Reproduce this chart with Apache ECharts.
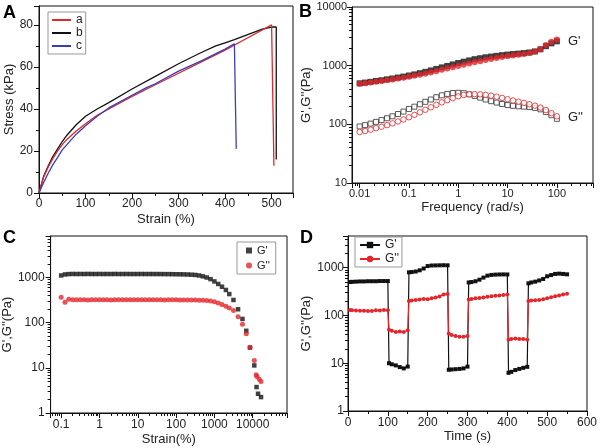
<!DOCTYPE html>
<html>
<head>
<meta charset="utf-8">
<script src="https://cdn.jsdelivr.net/npm/echarts@6/dist/echarts.min.js"></script>
<style>
html, body { margin: 0; padding: 0; background: #fff; }
#chart { width: 600px; height: 448px; }
</style>
</head>
<body>
<div id="chart"></div>
<script>
// ---- panel A : stress-strain curves ----
var strainA_a = [0, 5, 10, 20, 30, 40, 50, 60, 80, 100, 125, 150, 200, 250, 300, 350, 400, 450, 500, 502, 505];
var stressA_a = [0, 4, 7.5, 12.5, 16.5, 20, 23, 25.5, 29.5, 33, 37, 40, 46, 51.5, 57, 62.5, 68, 74, 80, 80, 13];
var strainA_b = [0, 5, 10, 20, 30, 40, 50, 60, 70, 80, 100, 125, 150, 200, 250, 300, 350, 380, 400, 420, 450, 480, 500, 510, 510];
var stressA_b = [0, 4, 8, 13, 17.5, 21, 24.5, 27.5, 30, 32.5, 36.5, 40, 43, 49.5, 55.5, 61.5, 67, 70, 71.5, 73, 75.5, 78, 79, 79, 16];
var strainA_c = [0, 10, 20, 30, 40, 50, 60, 80, 100, 125, 150, 200, 230, 250, 300, 350, 400, 420, 422, 424];
var stressA_c = [0, 5, 9.5, 13.5, 17, 20.5, 23, 28, 32, 36.5, 40.5, 46.5, 50, 52, 58, 63, 68.5, 71, 71, 21];

// ---- panel B : frequency sweep ----
var freqB = [0.01, 0.0129, 0.0167, 0.0215, 0.0278, 0.0359, 0.0464, 0.0599, 0.0774,
  0.1, 0.129, 0.167, 0.215, 0.278, 0.359, 0.464, 0.599, 0.774,
  1, 1.29, 1.67, 2.15, 2.78, 3.59, 4.64, 5.99, 7.74,
  10, 12.9, 16.7, 21.5, 27.8, 35.9, 46.4, 59.9, 77.4, 100];
var storageB1 = [500, 515, 530, 548, 565, 585, 605, 628, 652,
  680, 710, 745, 785, 830, 880, 935, 990, 1050,
  1110, 1170, 1230, 1290, 1340, 1390, 1430, 1470, 1510,
  1545, 1575, 1605, 1640, 1680, 1750, 1900, 2150, 2400, 2600];
var storageB2 = [490, 503, 517, 532, 548, 565, 583, 603, 625,
  648, 673, 700, 730, 765, 805, 848, 893, 940,
  985, 1035, 1085, 1140, 1195, 1250, 1300, 1350, 1400,
  1445, 1490, 1530, 1580, 1640, 1720, 1900, 2250, 2550, 2780];
var lossB1 = [92, 97, 103, 110, 118, 127, 137, 150, 165,
  183, 200, 220, 242, 265, 290, 312, 330, 342,
  345, 340, 325, 305, 285, 265, 248, 235, 222,
  213, 207, 203, 200, 197, 190, 180, 162, 143, 124];
var lossB2 = [74, 77, 81, 86, 91, 97, 104, 112, 121,
  132, 145, 160, 177, 195, 215, 237, 258, 280,
  300, 316, 325, 328, 325, 318, 308, 296, 282,
  268, 255, 243, 232, 220, 208, 193, 175, 155, 137];

// ---- panel C : strain sweep ----
var strainC = [0.1, 0.126, 0.158, 0.2, 0.251, 0.316, 0.398, 0.501, 0.631, 0.794,
  1, 1.26, 1.58, 2, 2.51, 3.16, 3.98, 5.01, 6.31, 7.94,
  10, 12.6, 15.8, 20, 25.1, 31.6, 39.8, 50.1, 63.1, 79.4,
  100, 126, 158, 200, 251, 316, 398, 501, 631, 794,
  1000, 1260, 1580, 1995, 2450, 3150, 4150, 5400, 6800, 8500,
  11000, 12300, 12600, 12900, 13800, 14800, 16500];
var storageC = [1110, 1170, 1190, 1200, 1195, 1198, 1195, 1200, 1196, 1195,
  1198, 1195, 1196, 1195, 1198, 1195, 1195, 1197, 1195, 1194,
  1195, 1196, 1194, 1195, 1193, 1194, 1192, 1190, 1188, 1185,
  1182, 1178, 1172, 1165, 1155, 1140, 1110, 1060, 1000, 920,
  820, 720, 625, 530, 430, 318, 198, 121, 66, 28,
  11.3, null, 3.75, null, 2.67, null, 2.25];
var lossC = [365, 285, 330, 322, 320, 322, 320, 318, 320, 322,
  320, 321, 320, 319, 320, 322, 320, 320, 321, 320,
  320, 320, 321, 320, 320, 320, 320, 319, 320, 320,
  320, 319, 318, 318, 317, 316, 315, 312, 308, 300,
  290, 272, 252, 232, 212, 185, 135, 92, 57, 28.6,
  14.5, 7, null, 6.4, null, 5.6, 5.0];

// ---- panel D : step strain recovery ----
var timeD = [5, 10, 20, 30, 40, 50, 60, 70, 80, 90, 100,
  103, 110, 120, 130, 140, 150,
  153, 160, 170, 180, 190, 200, 210, 220, 230, 240, 250,
  253, 260, 270, 280, 290, 300,
  303, 310, 320, 330, 340, 350, 360, 370, 380, 390, 400,
  403, 410, 420, 430, 440, 450,
  453, 460, 470, 480, 490, 500, 510, 520, 530, 540, 550];
var storageD = [500, 505, 510, 515, 515, 520, 520, 520, 525, 525, 525,
  10, 9.5, 9, 8.3, 7.8, 8.5,
  800, 810, 830, 880, 960, 1080, 1110, 1115, 1120, 1125, 1120,
  7.3, 7.4, 7.5, 7.6, 7.8, 8.5,
  490, 500, 520, 560, 620, 680, 705, 715, 720, 722, 720,
  6.3, 6.6, 7.2, 7.6, 8.0, 8.4,
  470, 490, 510, 540, 580, 660, 700, 740, 750, 740, 725];
var lossD = [130, 128, 127, 126, 125, 124, 124, 128, 127, 130, 128,
  50, 48, 45, 46, 45, 49,
  200, 205, 210, 215, 222, 218, 228, 238, 250, 275, 280,
  42, 39, 37, 36, 36, 37,
  215, 222, 228, 232, 238, 245, 252, 258, 262, 268, 275,
  31, 32, 33, 32, 32, 31,
  200, 205, 208, 210, 218, 228, 240, 252, 262, 275, 285];

var FONT = "'Liberation Sans', Arial, sans-serif";
var RED = '#e3262b', BLACK = '#111111', BLUE = '#3c3cb4';

function pairs(xs, ys) {
  var out = [];
  for (var i = 0; i < xs.length; i++) {
    if (ys[i] != null) out.push([xs[i], ys[i]]);
  }
  return out;
}

function log10(v) { return Math.log(v) / Math.LN10; }

function isDecade(v) {
  var l = log10(v);
  return Math.abs(l - Math.round(l)) < 1e-6;
}
function logLabel(v) {
  return isDecade(v) ? String(Number(v.toPrecision(6))) : '';
}

// minor tick positions (2..9 x each decade), given as exponents
function logMinorTicks(lo, hi) {
  var out = [];
  for (var e = Math.floor(log10(lo)); e <= Math.ceil(log10(hi)); e++) {
    for (var m = 2; m <= 9; m++) {
      var v = m * Math.pow(10, e);
      if (v > lo && v < hi) out.push(log10(v));
    }
  }
  return out;
}

function baseAxis(gridIndex, fontSize) {
  return {
    gridIndex: gridIndex,
    axisLine: { show: true, onZero: false, lineStyle: { color: BLACK, width: 1 } },
    axisTick: { show: true, inside: false, length: 5, lineStyle: { color: BLACK } },
    minorTick: { show: false, length: 3, lineStyle: { color: BLACK } },
    splitLine: { show: false },
    axisLabel: { color: '#222', fontSize: fontSize, fontFamily: FONT },
    nameLocation: 'middle',
    nameTextStyle: { color: '#222', fontSize: 13, fontFamily: FONT }
  };
}

// hidden overlay axis in exponent space that only carries the minor ticks of a log axis
function minorLogAxis(gridIndex, lo, hi, position) {
  var ticks = logMinorTicks(lo, hi);
  return {
    type: 'value', gridIndex: gridIndex, min: log10(lo), max: log10(hi), position: position, offset: 0,
    axisLine: { show: false, onZero: false },
    axisLabel: { show: false, customValues: ticks },
    splitLine: { show: false },
    axisTick: { show: true, length: 3, lineStyle: { color: BLACK }, customValues: ticks }
  };
}

function extend(a, b) {
  for (var k in b) {
    if (typeof b[k] === 'object' && b[k] !== null && !Array.isArray(b[k]) && typeof a[k] === 'object') {
      extend(a[k], b[k]);
    } else {
      a[k] = b[k];
    }
  }
  return a;
}

var chart = echarts.init(document.getElementById('chart'), null, { renderer: 'canvas' });

var gridStyle = { show: true, borderColor: BLACK, borderWidth: 1, backgroundColor: 'transparent', containLabel: false };

var option = {
  animation: false,
  backgroundColor: '#fff',
  grid: [
    extend({ left: 39, top: 6, width: 254, height: 187 }, gridStyle),
    extend({ left: 352, top: 7, width: 241, height: 176 }, gridStyle),
    extend({ left: 46, top: 236, width: 241, height: 177 }, gridStyle),
    extend({ left: 348, top: 236, width: 239, height: 175 }, gridStyle)
  ],
  xAxis: [
    extend(baseAxis(0, 12), {
      type: 'value', min: 0, max: 546, interval: 100, name: 'Strain (%)', nameGap: 20,
      minorTick: { show: true, splitNumber: 2 },
      axisLabel: { margin: 5, formatter: function (v) { return v % 100 === 0 ? String(v) : ''; } }
    }),
    extend(baseAxis(1, 11), {
      type: 'log', logBase: 10, min: 0.007, max: 540, name: 'Frequency (rad/s)', nameGap: 18,
      axisLabel: { margin: 5, formatter: logLabel }
    }),
    extend(baseAxis(2, 12), {
      type: 'log', logBase: 10, min: 0.053, max: 78600, name: 'Strain(%)', nameGap: 20,
      axisLabel: { margin: 6, formatter: logLabel }
    }),
    extend(baseAxis(3, 12), {
      type: 'value', min: 0, max: 600, interval: 100, name: 'Time (s)', nameGap: 17,
      minorTick: { show: true, splitNumber: 2 },
      axisLabel: { margin: 6 }
    }),
    minorLogAxis(1, 0.007, 540, 'bottom'),
    minorLogAxis(2, 0.053, 78600, 'bottom')
  ],
  yAxis: [
    extend(baseAxis(0, 12), {
      type: 'value', min: 0, max: 89, interval: 20, name: 'Stress (kPa)', nameGap: 22,
      minorTick: { show: true, splitNumber: 2 },
      axisLabel: { margin: 6, formatter: function (v) { return v % 20 === 0 ? String(v) : ''; } }
    }),
    extend(baseAxis(1, 11), {
      type: 'log', logBase: 10, min: 10, max: 10000, name: "G',G''(Pa)", nameGap: 35,
      axisLabel: { margin: 5, formatter: logLabel }
    }),
    extend(baseAxis(2, 12), {
      type: 'log', logBase: 10, min: 1, max: 8300, name: "G',G''(Pa)", nameGap: 27,
      axisLabel: { margin: 6, formatter: logLabel }
    }),
    extend(baseAxis(3, 12), {
      type: 'log', logBase: 10, min: 1, max: 4600, name: "G',G''(Pa)", nameGap: 31,
      axisLabel: { margin: 4, formatter: logLabel }
    }),
    minorLogAxis(1, 10, 10000, 'left'),
    minorLogAxis(2, 1, 8300, 'left'),
    minorLogAxis(3, 1, 4600, 'left')
  ],
  legend: [
    {
      data: ['a', 'b', 'c'], orient: 'vertical', left: 48, top: 12,
      icon: 'rect', itemWidth: 19, itemHeight: 2, itemGap: 1, padding: [2, 3, 2, 4],
      borderColor: '#999', borderWidth: 1,
      textStyle: { fontSize: 12, lineHeight: 12, fontFamily: FONT, color: '#222' }
    },
    {
      data: ["G'|C", "G''|C"], orient: 'vertical', left: 237, top: 242,
      itemWidth: 6, itemHeight: 6, itemGap: 4, padding: [3, 6, 3, 9],
      borderColor: '#999', borderWidth: 1,
      formatter: function (n) { return n.split('|')[0]; },
      textStyle: { fontSize: 11, lineHeight: 11, fontFamily: FONT, color: '#222' }
    },
    {
      data: ["G'|D", "G''|D"], orient: 'vertical', left: 355, top: 237,
      itemWidth: 20, itemHeight: 8, itemGap: 2, padding: [2, 3, 2, 4],
      borderColor: '#999', borderWidth: 1,
      formatter: function (n) { return n.split('|')[0]; },
      textStyle: { fontSize: 12, lineHeight: 12, fontFamily: FONT, color: '#222' }
    }
  ],
  graphic: [
    { type: 'text', left: 3, top: 4, style: { text: 'A', font: 'bold 18px ' + FONT, fill: '#000' } },
    { type: 'text', left: 299, top: 3, style: { text: 'B', font: 'bold 18px ' + FONT, fill: '#000' } },
    { type: 'text', left: 3, top: 229, style: { text: 'C', font: 'bold 18px ' + FONT, fill: '#000' } },
    { type: 'text', left: 300, top: 229, style: { text: 'D', font: 'bold 18px ' + FONT, fill: '#000' } },
    { type: 'text', left: 568, top: 35, style: { text: "G'", font: '13px ' + FONT, fill: '#222' } },
    { type: 'text', left: 568, top: 111, style: { text: "G''", font: '13px ' + FONT, fill: '#222' } }
  ],
  series: [
    // A
    { name: 'b', type: 'line', xAxisIndex: 0, yAxisIndex: 0, symbol: 'none', showSymbol: false,
      lineStyle: { color: BLACK, width: 1.3 }, itemStyle: { color: BLACK }, data: pairs(strainA_b, stressA_b) },
    { name: 'a', type: 'line', xAxisIndex: 0, yAxisIndex: 0, symbol: 'none', showSymbol: false,
      lineStyle: { color: RED, width: 1.3 }, itemStyle: { color: RED }, data: pairs(strainA_a, stressA_a) },
    { name: 'c', type: 'line', xAxisIndex: 0, yAxisIndex: 0, symbol: 'none', showSymbol: false,
      lineStyle: { color: BLUE, width: 1.3 }, itemStyle: { color: BLUE }, data: pairs(strainA_c, stressA_c) },
    // B
    { name: 'B-Gp1', type: 'scatter', xAxisIndex: 1, yAxisIndex: 1, symbol: 'rect', symbolSize: 6,
      itemStyle: { color: BLACK }, data: pairs(freqB, storageB1) },
    { name: 'B-Gpp1', type: 'scatter', xAxisIndex: 1, yAxisIndex: 1, symbol: 'rect', symbolSize: 5,
      itemStyle: { color: '#fff', borderColor: '#333', borderWidth: 1 }, data: pairs(freqB, lossB1) },
    { name: 'B-Gp2', type: 'scatter', xAxisIndex: 1, yAxisIndex: 1, symbol: 'circle', symbolSize: 6,
      itemStyle: { color: RED }, data: pairs(freqB, storageB2) },
    { name: 'B-Gpp2', type: 'scatter', xAxisIndex: 1, yAxisIndex: 1, symbol: 'circle', symbolSize: 5.5,
      itemStyle: { color: '#fff', borderColor: RED, borderWidth: 1 }, data: pairs(freqB, lossB2) },
    // C
    { name: "G'|C", type: 'scatter', xAxisIndex: 2, yAxisIndex: 2, symbol: 'rect', symbolSize: 4.5,
      itemStyle: { color: BLACK }, data: pairs(strainC, storageC) },
    { name: "G''|C", type: 'scatter', xAxisIndex: 2, yAxisIndex: 2, symbol: 'circle', symbolSize: 5,
      itemStyle: { color: RED }, data: pairs(strainC, lossC) },
    // D
    { name: "G'|D", type: 'line', xAxisIndex: 3, yAxisIndex: 3, symbol: 'rect', symbolSize: 4,
      lineStyle: { color: BLACK, width: 1.2 }, itemStyle: { color: BLACK }, data: pairs(timeD, storageD) },
    { name: "G''|D", type: 'line', xAxisIndex: 3, yAxisIndex: 3, symbol: 'circle', symbolSize: 4,
      lineStyle: { color: RED, width: 1.2 }, itemStyle: { color: RED }, data: pairs(timeD, lossD) }
  ]
};

chart.setOption(option);
</script>
</body>
</html>
